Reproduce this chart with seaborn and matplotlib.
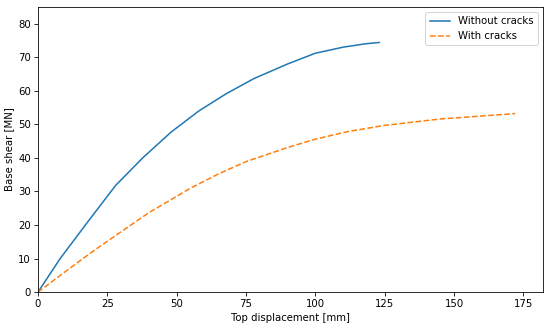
import numpy as np
import pandas as pd
import matplotlib
matplotlib.use("Agg")
import matplotlib.pyplot as plt
import seaborn as sns

# Pushover curves
disp_no_cracks = [0, 8, 18, 28, 38, 48, 58, 68, 78, 90, 100, 110, 118, 123]
shear_no_cracks = [0, 10, 21, 31.8, 40.2, 47.7, 54, 59.2, 63.7, 68, 71.2, 73, 74, 74.4]

disp_cracks = [0, 10, 20, 30, 40, 46, 55, 65, 75, 90, 100, 112, 125, 145, 160, 172]
shear_cracks = [0, 6.2, 12.3, 18, 23.7, 26.6, 31, 35.2, 38.9, 43.1, 45.6, 47.9, 49.7, 51.6, 52.5, 53.2]

df = pd.concat([
    pd.DataFrame({"disp": disp_no_cracks, "shear": shear_no_cracks, "case": "Without cracks"}),
    pd.DataFrame({"disp": disp_cracks, "shear": shear_cracks, "case": "With cracks"}),
])

dpi = 550 / 7.5
fig, ax = plt.subplots(figsize=(7.5, 329 / dpi), dpi=dpi)
sns.lineplot(data=df, x="disp", y="shear", hue="case", style="case",
             palette=["#1f77b4", "#ff7f0e"], dashes=["", (3.7, 1.6)],
             linewidth=1.5, sort=False, estimator=None, ax=ax)
ax.set_xlim(0, 182)
ax.set_ylim(0, 85)
ax.set_xlabel("Top displacement [mm]")
ax.set_ylabel("Base shear [MN]")
ax.legend(title=None, loc="upper right")
fig.subplots_adjust(left=0.069, right=0.987, top=0.979, bottom=0.112)
fig.savefig("out.png", dpi=dpi)
